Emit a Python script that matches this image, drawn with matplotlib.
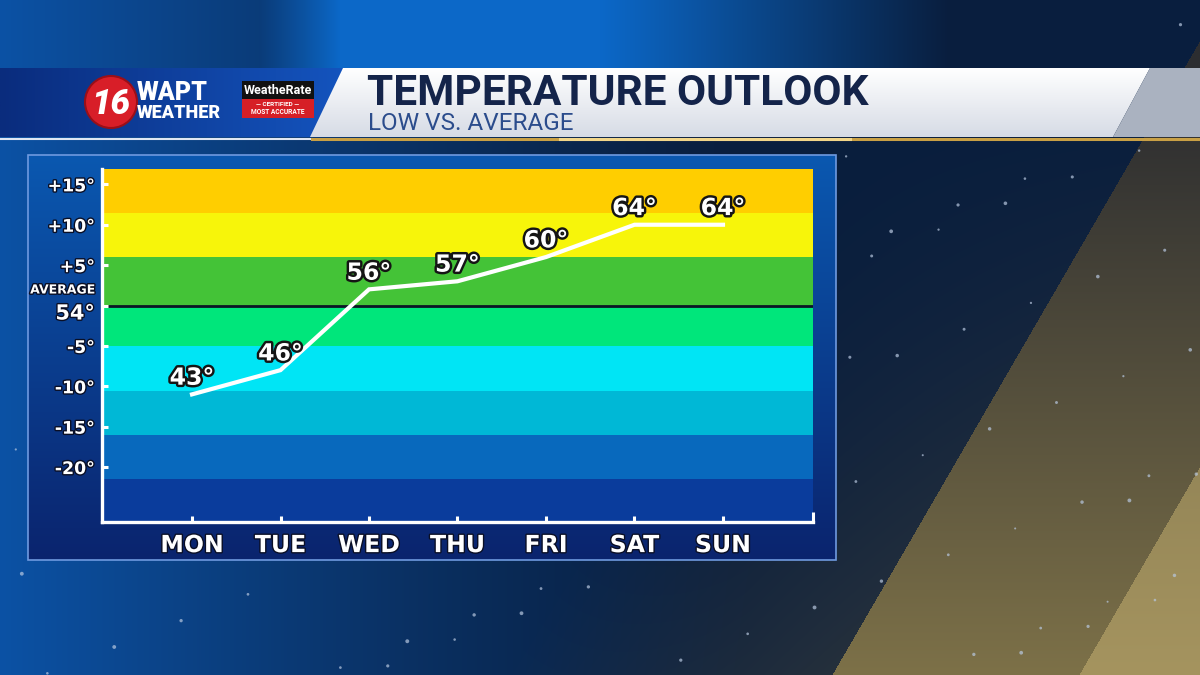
import matplotlib
matplotlib.use('Agg')

import numpy as np
import matplotlib.pyplot as plt
import matplotlib.patheffects as pe
import matplotlib.transforms as mtransforms
from matplotlib.patches import Polygon, Rectangle, Circle

# Data
days = ['MON', 'TUE', 'WED', 'THU', 'FRI', 'SAT', 'SUN']
lows = [43, 46, 56, 57, 60, 64, 64]
average = 54
ytick_vals = [15, 10, 5, 0, -5, -10, -15, -20]
ytick_labels = ['+15°', '+10°', '+5°', '54°', '-5°', '-10°', '-15°', '-20°']
band_edges = [16.9, 11.4, 5.97, 0, -5.03, -10.6, -16.04, -21.5, -26.8]
band_colors = ['#FFCE00', '#F7F50A', '#44C337', '#00E67B',
               '#00E5F5', '#00B8D6', '#0869BD', '#0A3C9C']

W, H = 1200, 675
fig = plt.figure(figsize=(12, 6.75), dpi=100)

# ---- background (decorative) ----
bg = fig.add_axes([0, 0, 1, 1])
bg.set_xlim(0, W)
bg.set_ylim(H, 0)
bg.axis('off')

X, Y = np.meshgrid(np.arange(W) + 0.5, np.arange(H) + 0.5)
img = np.zeros((H, W, 3))
navy = np.array([9, 30, 62]) / 255
img[:] = navy
# blue glow on the left
wl = np.clip(1 - X / 750, 0, 1) ** 1.3
blue = np.array([12, 82, 165]) / 255
img = img * (1 - wl[..., None]) + blue * wl[..., None]
# bright blue top strip
wt = np.clip((X - 260) / 80, 0, 1) * np.clip((950 - X) / 350, 0, 1) * (Y < 70)
tb = np.array([12, 104, 200]) / 255
img = img * (1 - wt[..., None]) + tb * wt[..., None]
# soft gold glow bottom right
u = X + 0.58 * Y
t = np.clip((Y - 100) / 575, 0, 1)
g = np.clip((u - 900) / 400, 0, 1) * 0.4 * t
gold = np.array([95, 85, 55]) / 255
img = img * (1 - g[..., None]) + gold * g[..., None]
# diagonal gold bands
t = t[..., None]
band1 = (np.array([44, 45, 48]) / 255) * (1 - t) + (np.array([125, 113, 72]) / 255) * t
m1 = (u > 1224)[..., None]
img = np.where(m1, band1, img)
band2 = (np.array([120, 110, 75]) / 255) * (1 - t) + (np.array([165, 148, 95]) / 255) * t
m2 = (u > 1471)[..., None]
img = np.where(m2, band2, img)
bg.imshow(img, extent=(0, W, H, 0), aspect='auto', zorder=0)

# stars
k = np.arange(1, 160)
sx = (k * 0.6180339887 % 1) * W
sy = (k * 0.7548776662 % 1) * H
keep = ~(((sx > 20) & (sx < 845) & (sy > 148) & (sy < 568)) | (sy < 145) & (sx < 1160))
sizes = 2 + (k * 0.41421356 % 1) * 6
bg.scatter(sx[keep], sy[keep], s=sizes[keep], color='#b8c8e0', alpha=0.7,
           linewidths=0, zorder=1)

# ---- chart panel ----
grad = np.linspace(0, 1, 200)[:, None, None]
ptop = np.array([11, 88, 176]) / 255
pbot = np.array([10, 36, 110]) / 255
pgrad = ptop * (1 - grad) + pbot * grad
bg.imshow(pgrad, extent=(28, 836, 560, 155), aspect='auto', zorder=2)
bg.add_patch(Rectangle((28, 155), 808, 405, fill=False, edgecolor='#6f9ae0',
                       linewidth=1.2, zorder=3))

# ---- header ----
hgrad = np.linspace(0, 1, 300)[None, :, None]
hleft = np.array([10, 44, 125]) / 255
hright = np.array([20, 84, 190]) / 255
him = bg.imshow(hleft * (1 - hgrad) + hright * hgrad, extent=(0, 345, 137, 68),
                aspect='auto', zorder=3)
hpoly = Polygon([(0, 68), (345, 68), (312, 137), (0, 137)], closed=True,
                facecolor='none', edgecolor='none')
bg.add_patch(hpoly)
him.set_clip_path(hpoly)
bg.plot([0, 312], [138.5, 138.5], color='#dfe6f2', lw=1.5, zorder=4)

wgrad = np.linspace(0, 1, 100)[:, None, None]
wim = bg.imshow(np.array([1, 1, 1]) * (1 - wgrad) + np.array([0.84, 0.86, 0.9]) * wgrad,
                extent=(310, 1150, 137, 68), aspect='auto', zorder=3)
wpoly = Polygon([(343, 68), (1150, 68), (1113, 137), (310, 137)], closed=True,
                facecolor='none', edgecolor='none')
bg.add_patch(wpoly)
wim.set_clip_path(wpoly)
bg.add_patch(Polygon([(1150, 68), (1200, 68), (1200, 137), (1113, 137)], closed=True,
                     facecolor='#aab2c0', edgecolor='none', zorder=3))
bg.plot([312, 1200], [138.5, 138.5], color='#c9a045', lw=2.2, zorder=4)
bg.plot([560, 850], [138.5, 138.5], color='#f2d68a', lw=2.2, zorder=4)

bg.text(367, 105, 'TEMPERATURE OUTLOOK', fontsize=30.5, fontweight='bold',
        family=['Roboto', 'DejaVu Sans'], color='#14244a', va='baseline', ha='left', zorder=5)
bg.text(368, 130, 'LOW VS. AVERAGE', fontsize=17.5, fontweight='normal',
        family=['Roboto', 'DejaVu Sans'], color='#2b4c8c', va='baseline', ha='left', zorder=5)

# logo
bg.add_patch(Circle((111, 102), 26, facecolor='#d81e28', edgecolor='#9a0f18',
                    linewidth=1.5, zorder=5))
bg.text(111, 104, '16', fontsize=25, fontweight='heavy', style='italic',
        family=['Roboto', 'DejaVu Sans'], color='white', ha='center', va='center', zorder=6)
bg.text(137, 100, 'WAPT', fontsize=18, fontweight='heavy', family=['Roboto', 'DejaVu Sans'],
        color='white', ha='left', va='baseline', zorder=6)
bg.text(137, 118, 'WEATHER', fontsize=13, fontweight='heavy', family=['Roboto', 'DejaVu Sans'],
        color='white', ha='left', va='baseline', zorder=6)
bg.add_patch(Rectangle((242, 81), 72, 18, facecolor='#111111', edgecolor='none', zorder=5))
bg.add_patch(Rectangle((242, 99), 72, 19, facecolor='#d61f26', edgecolor='none', zorder=5))
bg.text(278, 91, 'WeatheRate', fontsize=9, fontweight='bold', family=['Roboto', 'DejaVu Sans'],
        color='white', ha='center', va='center', zorder=6)
bg.text(278, 104, '— CERTIFIED —', fontsize=4.6, fontweight='bold',
        family=['Roboto', 'DejaVu Sans'], color='white', ha='center', va='center', zorder=6)
bg.text(278, 112, 'MOST ACCURATE', fontsize=4.8, fontweight='bold',
        family=['Roboto', 'DejaVu Sans'], color='white', ha='center', va='center', zorder=6)

# ---- chart ----
ax = fig.add_axes([102 / W, 1 - 522 / H, 711 / W, 353 / H])
ax.set_zorder(3)
ax.patch.set_visible(False)

for i, c in enumerate(band_colors):
    ax.axhspan(band_edges[i + 1], band_edges[i], color=c, lw=0, zorder=0)
ax.axhline(0, color='#0b1526', lw=2, zorder=1)

x = np.arange(len(days))
dev = [v - average for v in lows]
ax.plot(x, dev, color='white', lw=3, solid_joinstyle='miter', zorder=3)

outline = [pe.Stroke(linewidth=3.5, foreground='#151515'), pe.Normal()]
for xi, di, v in zip(x, dev, lows):
    ax.annotate(f'{v}°', (xi, di), xytext=(0, 12), textcoords='offset points',
                ha='center', va='center', fontsize=17, fontweight='bold',
                color='white', path_effects=outline, zorder=4)

ax.set_xlim(-1.017, 7.017)
ax.set_ylim(band_edges[-1], band_edges[0])

for s in ['top', 'right']:
    ax.spines[s].set_visible(False)
for s in ['left', 'bottom']:
    ax.spines[s].set_color('white')
    ax.spines[s].set_linewidth(2.4)
    ax.spines[s].set_zorder(5)

shadow = [pe.withStroke(linewidth=2, foreground='#0a0f25')]
ax.set_xticks(x)
ax.set_xticklabels(days, fontsize=17, fontweight='bold', color='white')
ax.set_yticks(ytick_vals)
ax.set_yticklabels(ytick_labels, fontsize=12.5, fontweight='bold', color='white')
ax.tick_params(axis='both', direction='in', color='white', width=2.2, length=4.5)
ax.tick_params(axis='x', pad=8)
ax.tick_params(axis='y', pad=5)
ax.set_xticks([7.017], minor=True)
ax.tick_params(axis='x', which='minor', direction='in', color='white', width=2.2, length=7)
for lab in ax.get_xticklabels() + ax.get_yticklabels():
    lab.set_path_effects(shadow)
shift = mtransforms.ScaledTranslation(0, -6 / 100, fig.dpi_scale_trans)
for lab in ax.get_yticklabels():
    if lab.get_text() == '54°':
        lab.set_fontsize(15)
        lab.set_transform(lab.get_transform() + shift)

fig.text(95 / W, 1 - 290 / H, 'AVERAGE', fontsize=9, fontweight='bold', color='white',
         ha='right', va='center', path_effects=shadow, zorder=10)

fig.savefig('out.png', dpi=100)
